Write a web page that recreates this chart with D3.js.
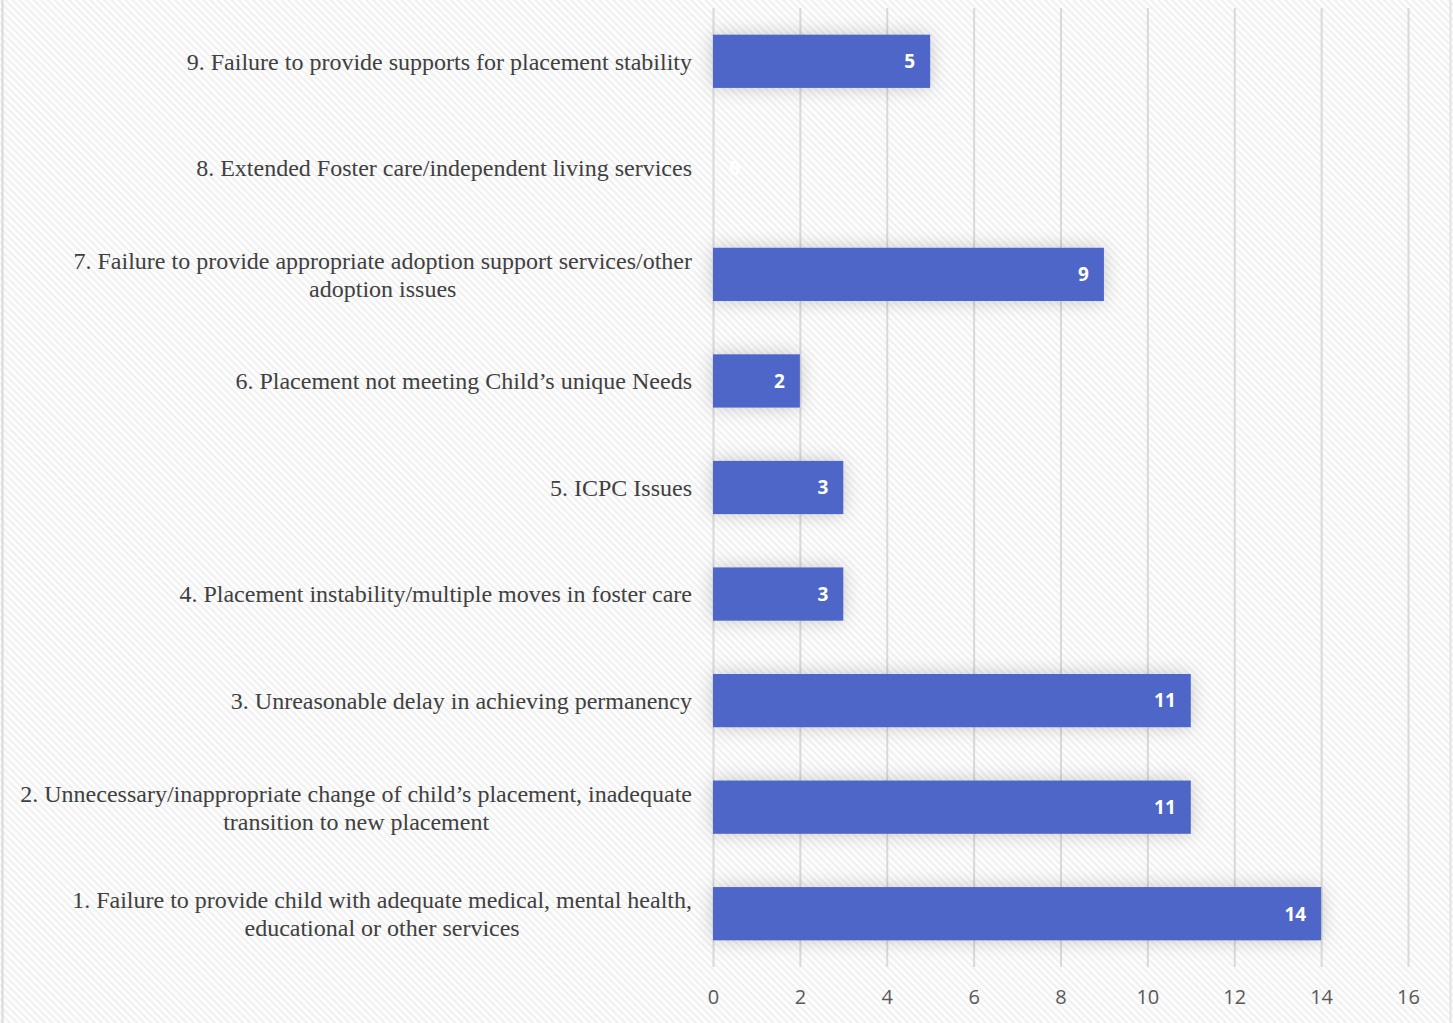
<!DOCTYPE html>
<html>
<head>
<meta charset="utf-8" />
<title>Chart</title>
<script src="https://cdnjs.cloudflare.com/ajax/libs/d3/7.8.5/d3.min.js"></script>
<style>
  body { margin: 0; background: #fff; }
</style>
</head>
<body>
<svg id="chart" width="1453" height="1023"></svg>
<script>
  // categories, top to bottom
  const categories = [
    '9. Failure to provide supports for placement stability',
    '8. Extended Foster care/independent living services',
    '7. Failure to provide appropriate adoption support services/other|adoption issues',
    '6. Placement not meeting Child\u2019s unique Needs',
    '5. ICPC Issues',
    '4. Placement instability/multiple moves in foster care',
    '3. Unreasonable delay in achieving permanency',
    '2. Unnecessary/inappropriate change of child\u2019s placement, inadequate|transition to new placement',
    '1. Failure to provide child with adequate medical, mental health,|educational or other services'
  ]
  const values = [5, 0, 9, 2, 3, 3, 11, 11, 14]
  const tickValues = [0, 2, 4, 6, 8, 10, 12, 14, 16]

  const svg = d3.select('#chart')
  const defs = svg.append('defs')

  // diagonal hatch background
  const pat = defs.append('pattern')
    .attr('id', 'hatch').attr('patternUnits', 'userSpaceOnUse')
    .attr('width', 5).attr('height', 5)
    .attr('patternTransform', 'rotate(45)')
  pat.append('rect').attr('width', 5).attr('height', 5).attr('fill', '#ffffff')
  pat.append('rect').attr('width', 5).attr('height', 2.5).attr('fill', '#f1f1f1')

  const shadow = defs.append('filter').attr('id', 'glow')
    .attr('x', '-20%').attr('y', '-60%').attr('width', '140%').attr('height', '220%')
  shadow.append('feDropShadow').attr('dx', 0).attr('dy', 0)
    .attr('stdDeviation', 9).attr('flood-color', '#000').attr('flood-opacity', 0.2)

  svg.append('rect').attr('width', 1453).attr('height', 1023).attr('fill', 'url(#hatch)')
  svg.append('line').attr('x1', 2.5).attr('x2', 2.5).attr('y1', 0).attr('y2', 1023)
    .style('stroke', '#d9d9d9').style('stroke-width', 2)
  svg.append('line').attr('x1', 1450.5).attr('x2', 1450.5).attr('y1', 0).attr('y2', 1023)
    .style('stroke', '#e4e4e4').style('stroke-width', 2)

  const xScale = d3.scaleLinear().domain([0, 16]).range([713, 1408])
  const yScale = d3.scaleBand().domain(categories).range([8, 967]).paddingInner(0.5).paddingOuter(0.25)

  // gridlines
  const xAxis = d3.axisBottom(xScale).tickValues(tickValues).tickSize(-(967 - 8)).tickPadding(23)
  const gx = svg.append('g').attr('transform', 'translate(0,967)').call(xAxis)
  gx.select('.domain').remove()
  gx.selectAll('.tick line').style('stroke', '#d9d9d9').style('stroke-width', 2)
  gx.selectAll('.tick text')
    .style('font-family', 'Open Sans, sans-serif').style('font-size', '20px').style('fill', '#595959')

  // bars
  svg.selectAll('rect.bar')
    .data(values)
    .enter()
    .append('rect')
    .attr('class', 'bar')
    .attr('x', xScale(0))
    .attr('y', (d, i) => yScale(categories[i]))
    .attr('width', d => xScale(d) - xScale(0))
    .attr('height', yScale.bandwidth())
    .attr('filter', 'url(#glow)')
    .style('fill', '#4e66c8')

  // value labels
  svg.selectAll('text.val')
    .data(values)
    .enter()
    .append('text')
    .attr('class', 'val')
    .attr('x', d => d === 0 ? xScale(0) + 22 : xScale(d) - 15)
    .attr('y', (d, i) => yScale(categories[i]) + yScale.bandwidth() / 2)
    .attr('dy', '0.36em')
    .attr('text-anchor', d => d === 0 ? 'middle' : 'end')
    .style('font-family', 'Open Sans, sans-serif').style('font-weight', 'bold').style('font-size', '19px')
    .style('fill', '#ffffff')
    .text(d => d)

  // category labels
  const labelFont = 'Liberation Serif, Times New Roman, serif'
  categories.forEach(function(c) {
    const lines = c.split('|')
    const cy = yScale(c) + yScale.bandwidth() / 2
    const t = svg.append('text')
      .attr('y', cy - (lines.length - 1) * 14)
      .style('font-family', labelFont)
      .style('font-size', '24px').style('fill', '#404040')
    if (lines.length === 1) {
      t.attr('x', 692).attr('text-anchor', 'end').attr('dy', '0.35em').text(lines[0])
    } else {
      t.attr('text-anchor', 'middle')
      lines.forEach(function(l, j) {
        t.append('tspan').attr('dy', j === 0 ? '0.35em' : 28).text(l)
      })
      // center the block under the first (longest) line, right edge at 692
      const tmp = svg.append('text').style('font-family', labelFont)
        .style('font-size', '24px').text(lines[0])
      const wide = tmp.node().getComputedTextLength()
      tmp.remove()
      t.selectAll('tspan').attr('x', 692 - wide / 2)
    }
  })
</script>
</body>
</html>
